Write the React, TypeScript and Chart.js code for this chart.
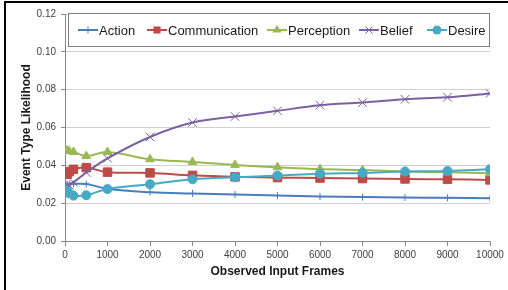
import React, { useEffect, useRef } from 'react';
import { Chart, registerables } from 'chart.js';

Chart.register(...registerables);

const frames = [50, 100, 200, 500, 1000, 2000, 3000, 4000, 5000, 6000, 7000, 8000, 9000, 10000];
const action = [0.030, 0.0302, 0.0302, 0.0301, 0.0276, 0.0258, 0.0251, 0.0246, 0.024, 0.0235, 0.0232, 0.023, 0.0228, 0.0226];
const communication = [0.0353, 0.0367, 0.0379, 0.0388, 0.0364, 0.036, 0.0347, 0.0339, 0.0335, 0.0333, 0.033, 0.0328, 0.0326, 0.0323];
const perception = [0.0478, 0.0475, 0.0471, 0.0449, 0.047, 0.0432, 0.0418, 0.0402, 0.039, 0.038, 0.0375, 0.0368, 0.0363, 0.0358];
const belief = [0.029, 0.0295, 0.031, 0.0362, 0.0437, 0.055, 0.0626, 0.0658, 0.0688, 0.0718, 0.0732, 0.0749, 0.076, 0.078];
const desire = [0.0266, 0.0252, 0.024, 0.0242, 0.0275, 0.030, 0.0326, 0.0337, 0.0346, 0.0356, 0.036, 0.0367, 0.037, 0.0379];

const seriesNames = ['Action', 'Communication', 'Perception', 'Belief', 'Desire'];
const seriesValues = [action, communication, perception, belief, desire];
const seriesColors = ['#4A7EBB', '#BE4B48', '#98B954', '#7D60A0', '#46AAC5'];
const seriesMarkers = ['cross', 'rect', 'triangle', 'crossRot', 'circle'];
const markerSizes = [3.5, 6, 5, 6, 4.5];

const xTitle = 'Observed Input Frames';
const yTitle = 'Event Type Likelihood';

const FONT = "'Liberation Sans', Arial, sans-serif";

// legend symbol start positions (layout only)
const legendX = [78, 147, 267, 359, 427];

function drawMarker(ctx: CanvasRenderingContext2D, style: string, x: number, y: number, r: number, color: string) {
  ctx.save();
  ctx.fillStyle = color;
  ctx.strokeStyle = color;
  ctx.lineWidth = 1;
  ctx.beginPath();
  if (style === 'cross') {
    ctx.moveTo(x - r, y); ctx.lineTo(x + r, y);
    ctx.moveTo(x, y - r); ctx.lineTo(x, y + r);
    ctx.stroke();
  } else if (style === 'crossRot') {
    const d = r * Math.SQRT1_2;
    ctx.moveTo(x - d, y - d); ctx.lineTo(x + d, y + d);
    ctx.moveTo(x - d, y + d); ctx.lineTo(x + d, y - d);
    ctx.stroke();
  } else if (style === 'rect') {
    const s = r * Math.SQRT1_2;
    ctx.rect(x - s, y - s, 2 * s, 2 * s);
    ctx.fill();
  } else if (style === 'triangle') {
    ctx.moveTo(x, y - r);
    ctx.lineTo(x + r * 0.91, y + r * 0.5);
    ctx.lineTo(x - r * 0.91, y + r * 0.5);
    ctx.closePath();
    ctx.fill();
  } else {
    ctx.arc(x, y, r, 0, Math.PI * 2);
    ctx.fill();
  }
  ctx.restore();
}

export default function App() {
  const ref = useRef<HTMLCanvasElement>(null);

  useEffect(() => {
    if (!ref.current) return;

    const decorPlugin = {
      id: 'decor',
      beforeDraw(chart: any) {
        const ctx = chart.ctx as CanvasRenderingContext2D;
        ctx.save();
        ctx.fillStyle = '#ffffff';
        ctx.fillRect(0, 0, chart.width, chart.height);
        ctx.restore();
      },
      afterDraw(chart: any) {
        const ctx = chart.ctx as CanvasRenderingContext2D;
        ctx.save();
        // frame lines
        ctx.fillStyle = '#000000';
        ctx.fillRect(4, 1, chart.width - 4, 2);
        ctx.fillRect(4, 1, 2, chart.height);
        // legend box
        const bx = 68.5, by = 13.5, bw = 421, bh = 33;
        ctx.fillStyle = '#ffffff';
        ctx.fillRect(bx, by, bw, bh);
        ctx.strokeStyle = '#7f7f7f';
        ctx.lineWidth = 1;
        ctx.strokeRect(bx, by, bw, bh);
        ctx.font = `13px ${FONT}`;
        ctx.textBaseline = 'middle';
        ctx.textAlign = 'left';
        const cy = 30;
        for (let i = 0; i < seriesNames.length; i++) {
          const x = legendX[i];
          ctx.strokeStyle = seriesColors[i];
          ctx.lineWidth = 2;
          ctx.beginPath();
          ctx.moveTo(x, cy);
          ctx.lineTo(x + 20, cy);
          ctx.stroke();
          drawMarker(ctx, seriesMarkers[i], x + 10, cy, Math.min(markerSizes[i], 5), seriesColors[i]);
          ctx.fillStyle = '#1a1a1a';
          ctx.fillText(seriesNames[i], x + 21, cy + 1);
        }
        ctx.restore();
      },
    };

    const datasets = seriesNames.map((name, i) => ({
      label: name,
      data: frames.map((f, j) => ({ x: f, y: seriesValues[i][j] })),
      borderColor: seriesColors[i],
      backgroundColor: seriesColors[i],
      pointBackgroundColor: seriesColors[i],
      pointBorderColor: seriesColors[i],
      pointStyle: seriesMarkers[i] as any,
      pointRadius: markerSizes[i],
      pointBorderWidth: 1,
      borderWidth: 2,
      tension: 0.4,
      fill: false,
      order: seriesNames.length - i,
    }));

    const chart = new Chart(ref.current, {
      type: 'line',
      data: { datasets },
      options: {
        animation: false,
        responsive: false,
        devicePixelRatio: 1,
        layout: { padding: { left: 0, right: 18, top: 14, bottom: 0 } },
        plugins: {
          legend: { display: false },
          tooltip: { enabled: false },
        },
        scales: {
          x: {
            type: 'linear',
            min: 0,
            max: 10000,
            ticks: {
              stepSize: 1000,
              color: '#404040',
              font: { family: FONT, size: 10 },
              padding: 3,
              maxRotation: 0,
              autoSkip: false,
              callback: (v: any) => String(v),
            },
            grid: {
              drawOnChartArea: false,
              drawTicks: true,
              tickLength: 5,
              tickColor: '#888888',
            },
            border: { display: true, color: '#888888', width: 1 },
            title: {
              display: true,
              text: xTitle,
              color: '#1a1a1a',
              font: { family: FONT, size: 12, weight: 'bold' },
              padding: { top: 0, bottom: 11 },
            },
            afterFit: (scale: any) => { scale.height = 49; },
          },
          y: {
            type: 'linear',
            min: 0,
            max: 0.12,
            ticks: {
              stepSize: 0.02,
              color: '#404040',
              font: { family: FONT, size: 10 },
              padding: 5,
              callback: (v: any) => Number(v).toFixed(2),
            },
            grid: {
              color: '#d0d0d0',
              drawTicks: true,
              tickLength: 4,
              tickColor: '#888888',
            },
            border: { display: true, color: '#888888', width: 1 },
            title: {
              display: true,
              text: yTitle,
              color: '#1a1a1a',
              font: { family: FONT, size: 12, weight: 'bold' },
              padding: { top: 19, bottom: 0 },
            },
            afterFit: (scale: any) => { scale.width = 65; },
          },
        },
      } as any,
      plugins: [decorPlugin],
    });

    return () => chart.destroy();
  }, []);

  return (
    <canvas
      ref={ref}
      width={508}
      height={290}
      style={{ position: 'absolute', left: 0, top: 0, width: 508, height: 290 }}
    />
  );
}
